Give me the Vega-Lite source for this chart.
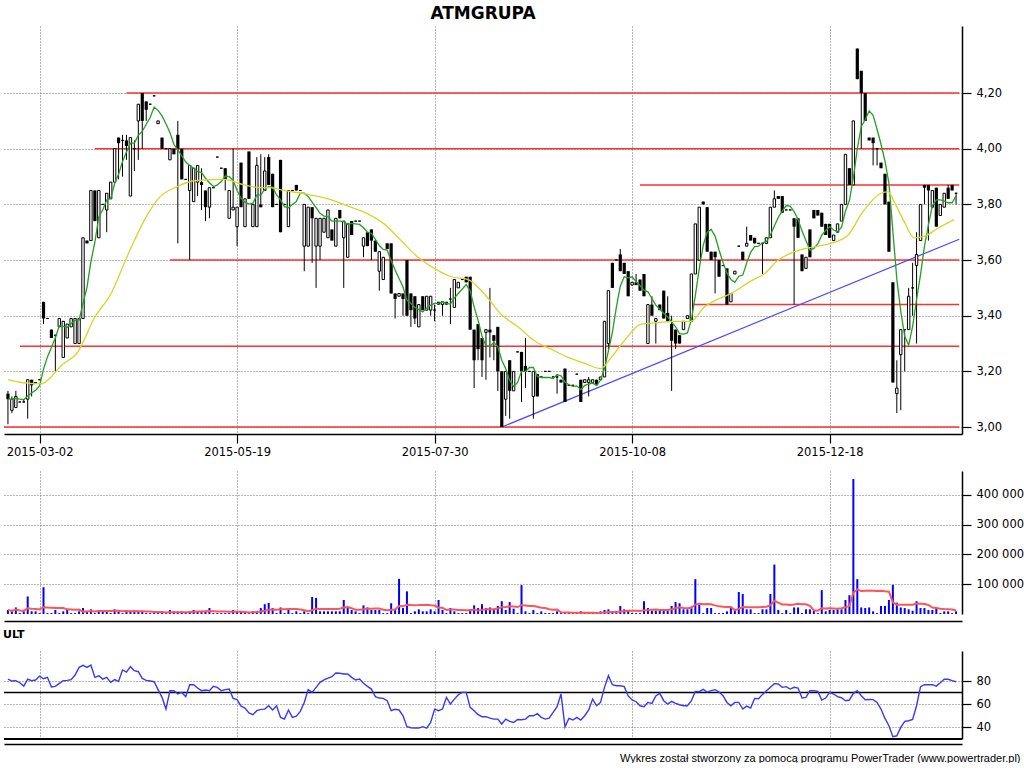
{
"$schema":"https://vega.github.io/schema/vega-lite/v6.json",
"background":"white",
"padding":{"left":3,"top":5,"right":0,"bottom":0},
"bounds":"flush",
"spacing":37,
"config":{"view":{"stroke":null},
 "axis":{"labelFont":"DejaVu Sans","labelFontSize":11.5,"labelColor":"black","domainColor":"black","tickColor":"black","gridColor":"#6e6e6e","gridDash":[1,2],"gridWidth":1,"domainWidth":1.5,"tickWidth":1.2,"tickSize":9,"labelPadding":5}},
"datasets":{
"lv":[{"i":30,"i2":240.8,"p":4.2},{"i":22,"i2":240.8,"p":4.0},{"i":160,"i2":240.8,"p":3.87},{"i":41,"i2":240.8,"p":3.6},{"i":173,"i2":240.8,"p":3.44},{"i":3,"i2":240.8,"p":3.29},{"i":-1,"i2":240.8,"p":3.0}],
"tr":[{"i":125,"p":3.0},{"i":240.8,"p":3.675}],
"ma":[{"i":0,"p":3.17},{"i":3.3,"p":3.16},{"i":8.4,"p":3.155},{"i":10.9,"p":3.18},{"i":13.4,"p":3.22},{"i":17.7,"p":3.27},{"i":21.8,"p":3.39},{"i":26.1,"p":3.48},{"i":30.4,"p":3.62},{"i":34.4,"p":3.74},{"i":38,"p":3.82},{"i":43,"p":3.865},{"i":47.1,"p":3.885},{"i":54.7,"p":3.89},{"i":59.8,"p":3.87},{"i":64.1,"p":3.86},{"i":66.6,"p":3.86},{"i":69.9,"p":3.85},{"i":74.2,"p":3.84},{"i":81,"p":3.82},{"i":86.8,"p":3.79},{"i":91.2,"p":3.765},{"i":95.2,"p":3.73},{"i":99.5,"p":3.67},{"i":103.8,"p":3.61},{"i":107.9,"p":3.57},{"i":112.2,"p":3.54},{"i":116.5,"p":3.53},{"i":120.5,"p":3.48},{"i":124.8,"p":3.405},{"i":129.1,"p":3.36},{"i":133.2,"p":3.31},{"i":137.5,"p":3.28},{"i":141.8,"p":3.25},{"i":145.8,"p":3.23},{"i":150.1,"p":3.21},{"i":152.7,"p":3.25},{"i":156,"p":3.31},{"i":160.3,"p":3.37},{"i":164.6,"p":3.375},{"i":168.6,"p":3.38},{"i":172.9,"p":3.38},{"i":176.2,"p":3.43},{"i":179.8,"p":3.46},{"i":183.1,"p":3.48},{"i":188.1,"p":3.525},{"i":191.4,"p":3.55},{"i":195,"p":3.6},{"i":198.2,"p":3.625},{"i":201.5,"p":3.64},{"i":205,"p":3.65},{"i":208.3,"p":3.66},{"i":212.7,"p":3.69},{"i":216,"p":3.765},{"i":218.5,"p":3.81},{"i":221,"p":3.84},{"i":222.8,"p":3.845},{"i":224.3,"p":3.81},{"i":226.8,"p":3.74},{"i":229.4,"p":3.68},{"i":231.9,"p":3.685},{"i":235.5,"p":3.715},{"i":239.5,"p":3.745}],
"k":[
{"i":0,"o":3.12,"h":3.13,"l":3.01,"c":3.10,"v":13500,"u":81.7},
{"i":1,"o":3.06,"h":3.11,"l":3.05,"c":3.10,"v":9000,"u":80},
{"i":2,"o":3.07,"h":3.13,"l":3.07,"c":3.11,"v":22000,"u":80.3},
{"i":3,"o":3.09,"h":3.09,"l":3.09,"c":3.09,"v":3000,"u":78.5},
{"i":4,"o":3.09,"h":3.10,"l":3.09,"c":3.09,"v":9000,"u":75.6},
{"i":5,"o":3.10,"h":3.17,"l":3.03,"c":3.17,"v":59000,"u":81.7},
{"i":6,"o":3.17,"h":3.17,"l":3.11,"c":3.15,"v":9000,"u":80.3},
{"i":7,"o":3.16,"h":3.16,"l":3.16,"c":3.16,"v":9000,"u":80.9},
{"i":8,"o":3.17,"h":3.17,"l":3.17,"c":3.17,"v":3000,"u":84.3},
{"i":9,"o":3.45,"h":3.45,"l":3.37,"c":3.39,"v":90000,"u":82},
{"i":10,"o":3.39,"h":3.39,"l":3.39,"c":3.39,"v":3000,"u":83.2},
{"i":11,"o":3.35,"h":3.35,"l":3.32,"c":3.32,"v":3000,"u":74.8},
{"i":12,"o":3.33,"h":3.33,"l":3.20,"c":3.33,"v":13500,"u":75.4},
{"i":13,"o":3.36,"h":3.39,"l":3.36,"c":3.39,"v":3000,"u":78},
{"i":14,"o":3.25,"h":3.38,"l":3.25,"c":3.38,"v":9000,"u":80.3},
{"i":15,"o":3.32,"h":3.37,"l":3.32,"c":3.37,"v":13500,"u":80.6},
{"i":16,"o":3.36,"h":3.39,"l":3.36,"c":3.39,"v":3000,"u":81.2},
{"i":17,"o":3.30,"h":3.39,"l":3.30,"c":3.39,"v":3000,"u":85.2},
{"i":18,"o":3.30,"h":3.39,"l":3.30,"c":3.39,"v":9000,"u":91.9},
{"i":19,"o":3.39,"h":3.68,"l":3.39,"c":3.68,"v":20000,"u":93.6},
{"i":20,"o":3.67,"h":3.67,"l":3.66,"c":3.66,"v":9000,"u":91.9},
{"i":21,"o":3.67,"h":3.85,"l":3.67,"c":3.85,"v":15700,"u":93.9},
{"i":22,"o":3.85,"h":3.85,"l":3.74,"c":3.74,"v":3000,"u":83.2},
{"i":23,"o":3.68,"h":3.85,"l":3.68,"c":3.85,"v":13500,"u":84.6},
{"i":24,"o":3.80,"h":3.80,"l":3.80,"c":3.80,"v":9000,"u":81.7},
{"i":25,"o":3.78,"h":3.84,"l":3.70,"c":3.84,"v":13500,"u":83.2},
{"i":26,"o":3.82,"h":3.88,"l":3.82,"c":3.88,"v":3000,"u":78.8},
{"i":27,"o":3.88,"h":4.00,"l":3.88,"c":4.00,"v":15700,"u":81.2},
{"i":28,"o":4.04,"h":4.04,"l":3.89,"c":4.02,"v":9000,"u":79.7},
{"i":29,"o":4.03,"h":4.05,"l":3.90,"c":4.03,"v":3000,"u":89.6},
{"i":30,"o":4.03,"h":4.05,"l":3.96,"c":4.01,"v":13500,"u":87.8},
{"i":31,"o":3.83,"h":4.04,"l":3.83,"c":4.04,"v":9000,"u":92.5},
{"i":32,"o":4.00,"h":4.03,"l":3.92,"c":4.00,"v":9000,"u":89},
{"i":33,"o":4.10,"h":4.16,"l":3.96,"c":4.16,"v":9000,"u":88.1},
{"i":34,"o":4.20,"h":4.20,"l":4.00,"c":4.10,"v":9000,"u":82.3},
{"i":35,"o":4.17,"h":4.17,"l":4.10,"c":4.14,"v":3000,"u":80.6},
{"i":36,"o":4.16,"h":4.16,"l":4.16,"c":4.16,"v":3000,"u":80},
{"i":37,"o":4.19,"h":4.19,"l":4.19,"c":4.19,"v":3000,"u":79.4},
{"i":38,"o":4.09,"h":4.10,"l":4.09,"c":4.10,"v":3000,"u":72.5},
{"i":39,"o":4.04,"h":4.04,"l":4.00,"c":4.00,"v":3000,"u":65.8},
{"i":40,"o":4.00,"h":4.00,"l":4.00,"c":4.00,"v":3000,"u":55.6},
{"i":41,"o":3.96,"h":4.00,"l":3.96,"c":4.00,"v":13500,"u":71.6},
{"i":42,"o":4.00,"h":4.00,"l":3.98,"c":3.98,"v":9000,"u":71.6},
{"i":43,"o":4.05,"h":4.10,"l":3.66,"c":4.00,"v":9000,"u":68.7},
{"i":44,"o":4.00,"h":4.00,"l":3.89,"c":3.89,"v":9000,"u":70.1},
{"i":45,"o":3.89,"h":3.89,"l":3.89,"c":3.89,"v":3000,"u":66.4},
{"i":46,"o":3.85,"h":3.94,"l":3.60,"c":3.94,"v":9000,"u":76.8},
{"i":47,"o":3.81,"h":3.93,"l":3.81,"c":3.93,"v":13500,"u":76.8},
{"i":48,"o":3.88,"h":3.94,"l":3.83,"c":3.94,"v":9000,"u":73.9},
{"i":49,"o":3.88,"h":3.93,"l":3.78,"c":3.87,"v":9000,"u":71.6},
{"i":50,"o":3.85,"h":3.85,"l":3.74,"c":3.79,"v":9000,"u":72.2},
{"i":51,"o":3.79,"h":3.86,"l":3.75,"c":3.86,"v":20000,"u":71.6},
{"i":52,"o":3.86,"h":3.86,"l":3.86,"c":3.86,"v":3000,"u":75.4},
{"i":53,"o":3.97,"h":3.97,"l":3.97,"c":3.97,"v":3000,"u":74.5},
{"i":54,"o":3.93,"h":3.93,"l":3.93,"c":3.93,"v":3000,"u":71.6},
{"i":55,"o":3.93,"h":3.93,"l":3.85,"c":3.89,"v":3000,"u":72.5},
{"i":56,"o":3.75,"h":3.85,"l":3.75,"c":3.85,"v":3000,"u":73},
{"i":57,"o":3.78,"h":4.00,"l":3.78,"c":3.79,"v":13500,"u":64.9},
{"i":58,"o":3.72,"h":3.79,"l":3.65,"c":3.79,"v":9000,"u":63.8},
{"i":59,"o":3.95,"h":3.95,"l":3.79,"c":3.79,"v":9000,"u":58.2},
{"i":60,"o":3.72,"h":3.82,"l":3.72,"c":3.82,"v":3000,"u":56.5},
{"i":61,"o":3.99,"h":3.99,"l":3.82,"c":3.82,"v":3000,"u":52.2},
{"i":62,"o":3.72,"h":3.80,"l":3.72,"c":3.80,"v":9000,"u":50.7},
{"i":63,"o":3.72,"h":3.97,"l":3.72,"c":3.94,"v":9000,"u":54.2},
{"i":64,"o":3.80,"h":3.98,"l":3.79,"c":3.79,"v":20000,"u":55.4},
{"i":65,"o":3.85,"h":3.97,"l":3.85,"c":3.92,"v":33000,"u":55.6},
{"i":66,"o":3.97,"h":3.98,"l":3.87,"c":3.87,"v":37000,"u":58.5},
{"i":67,"o":3.91,"h":3.91,"l":3.79,"c":3.79,"v":20000,"u":54.8},
{"i":68,"o":3.80,"h":3.80,"l":3.80,"c":3.80,"v":3000,"u":58.5},
{"i":69,"o":3.96,"h":3.96,"l":3.70,"c":3.70,"v":22000,"u":48.4},
{"i":70,"o":3.80,"h":3.80,"l":3.80,"c":3.80,"v":3000,"u":46.9},
{"i":71,"o":3.72,"h":3.85,"l":3.72,"c":3.85,"v":15700,"u":54.8},
{"i":72,"o":3.85,"h":3.85,"l":3.85,"c":3.85,"v":3000,"u":48.4},
{"i":73,"o":3.87,"h":3.87,"l":3.85,"c":3.85,"v":9000,"u":49.5},
{"i":74,"o":3.85,"h":3.85,"l":3.85,"c":3.85,"v":3000,"u":53.6},
{"i":75,"o":3.65,"h":3.80,"l":3.56,"c":3.80,"v":9000,"u":61.4},
{"i":76,"o":3.65,"h":3.79,"l":3.65,"c":3.79,"v":3000,"u":72.5},
{"i":77,"o":3.79,"h":3.79,"l":3.59,"c":3.75,"v":57000,"u":70.1},
{"i":78,"o":3.65,"h":3.75,"l":3.50,"c":3.75,"v":54000,"u":74.5},
{"i":79,"o":3.65,"h":3.75,"l":3.60,"c":3.75,"v":9000,"u":78.8},
{"i":80,"o":3.70,"h":3.75,"l":3.70,"c":3.75,"v":9000,"u":80.9},
{"i":81,"o":3.68,"h":3.78,"l":3.68,"c":3.78,"v":9000,"u":82.6},
{"i":82,"o":3.71,"h":3.71,"l":3.67,"c":3.67,"v":9000,"u":83.8},
{"i":83,"o":3.65,"h":3.75,"l":3.65,"c":3.75,"v":9000,"u":87},
{"i":84,"o":3.78,"h":3.78,"l":3.75,"c":3.75,"v":9000,"u":86.7},
{"i":85,"o":3.68,"h":3.74,"l":3.50,"c":3.74,"v":47000,"u":86.1},
{"i":86,"o":3.61,"h":3.73,"l":3.61,"c":3.73,"v":22000,"u":86.1},
{"i":87,"o":3.74,"h":3.74,"l":3.69,"c":3.69,"v":13500,"u":83.2},
{"i":88,"o":3.74,"h":3.74,"l":3.74,"c":3.74,"v":9000,"u":80.9},
{"i":89,"o":3.74,"h":3.74,"l":3.74,"c":3.74,"v":3000,"u":81.7},
{"i":90,"o":3.65,"h":3.68,"l":3.61,"c":3.68,"v":29000,"u":78},
{"i":91,"o":3.70,"h":3.70,"l":3.65,"c":3.65,"v":22000,"u":75.4},
{"i":92,"o":3.71,"h":3.71,"l":3.60,"c":3.67,"v":13500,"u":73},
{"i":93,"o":3.67,"h":3.67,"l":3.63,"c":3.63,"v":13500,"u":66.4},
{"i":94,"o":3.56,"h":3.63,"l":3.49,"c":3.63,"v":13500,"u":65.2},
{"i":95,"o":3.53,"h":3.61,"l":3.53,"c":3.61,"v":3000,"u":64.9},
{"i":96,"o":3.66,"h":3.66,"l":3.64,"c":3.64,"v":3000,"u":62.9},
{"i":97,"o":3.66,"h":3.66,"l":3.48,"c":3.48,"v":36000,"u":54.2},
{"i":98,"o":3.48,"h":3.48,"l":3.39,"c":3.46,"v":15700,"u":55.4},
{"i":99,"o":3.47,"h":3.48,"l":3.47,"c":3.48,"v":118000,"u":54.8},
{"i":100,"o":3.48,"h":3.48,"l":3.40,"c":3.46,"v":20000,"u":49.8},
{"i":101,"o":3.60,"h":3.60,"l":3.40,"c":3.40,"v":76000,"u":40.3},
{"i":102,"o":3.48,"h":3.48,"l":3.36,"c":3.42,"v":3000,"u":39.4},
{"i":103,"o":3.47,"h":3.47,"l":3.37,"c":3.39,"v":9000,"u":39.1},
{"i":104,"o":3.36,"h":3.44,"l":3.36,"c":3.44,"v":15700,"u":39.1},
{"i":105,"o":3.47,"h":3.47,"l":3.42,"c":3.42,"v":9000,"u":40.3},
{"i":106,"o":3.42,"h":3.47,"l":3.42,"c":3.47,"v":9000,"u":39.1},
{"i":107,"o":3.42,"h":3.47,"l":3.40,"c":3.47,"v":15700,"u":44},
{"i":108,"o":3.42,"h":3.44,"l":3.38,"c":3.42,"v":9000,"u":55.6},
{"i":109,"o":3.45,"h":3.45,"l":3.44,"c":3.44,"v":47000,"u":54.2},
{"i":110,"o":3.44,"h":3.45,"l":3.40,"c":3.45,"v":13500,"u":55.6},
{"i":111,"o":3.45,"h":3.45,"l":3.44,"c":3.44,"v":3000,"u":65.8},
{"i":112,"o":3.46,"h":3.50,"l":3.37,"c":3.46,"v":20000,"u":60},
{"i":113,"o":3.43,"h":3.53,"l":3.43,"c":3.53,"v":9000,"u":64.3},
{"i":114,"o":3.50,"h":3.52,"l":3.50,"c":3.52,"v":3000,"u":68.1},
{"i":115,"o":3.53,"h":3.53,"l":3.53,"c":3.53,"v":3000,"u":70.1},
{"i":116,"o":3.54,"h":3.54,"l":3.52,"c":3.52,"v":3000,"u":70.1},
{"i":117,"o":3.54,"h":3.54,"l":3.35,"c":3.35,"v":15700,"u":57.1},
{"i":118,"o":3.35,"h":3.35,"l":3.14,"c":3.24,"v":29000,"u":54.2},
{"i":119,"o":3.37,"h":3.37,"l":3.24,"c":3.28,"v":20000,"u":50.7},
{"i":120,"o":3.32,"h":3.32,"l":3.18,"c":3.24,"v":33000,"u":49},
{"i":121,"o":3.34,"h":3.35,"l":3.17,"c":3.35,"v":20000,"u":49},
{"i":122,"o":3.35,"h":3.50,"l":3.25,"c":3.34,"v":22000,"u":47.8},
{"i":123,"o":3.33,"h":3.33,"l":3.24,"c":3.31,"v":13500,"u":46.9},
{"i":124,"o":3.36,"h":3.36,"l":3.13,"c":3.20,"v":27000,"u":46.9},
{"i":125,"o":3.20,"h":3.20,"l":3.00,"c":3.00,"v":43000,"u":42.6},
{"i":126,"o":3.10,"h":3.20,"l":3.04,"c":3.20,"v":13500,"u":46.9},
{"i":127,"o":3.24,"h":3.24,"l":3.03,"c":3.13,"v":40000,"u":44.9},
{"i":128,"o":3.13,"h":3.20,"l":3.13,"c":3.20,"v":18000,"u":44},
{"i":129,"o":3.27,"h":3.27,"l":3.27,"c":3.27,"v":3000,"u":46.6},
{"i":130,"o":3.27,"h":3.27,"l":3.09,"c":3.20,"v":97000,"u":46.4},
{"i":131,"o":3.22,"h":3.32,"l":3.14,"c":3.20,"v":9000,"u":46.9},
{"i":132,"o":3.20,"h":3.20,"l":3.20,"c":3.20,"v":3000,"u":49.8},
{"i":133,"o":3.11,"h":3.20,"l":3.03,"c":3.20,"v":13500,"u":49.8},
{"i":134,"o":3.19,"h":3.19,"l":3.11,"c":3.11,"v":3000,"u":51.6},
{"i":135,"o":3.18,"h":3.18,"l":3.18,"c":3.18,"v":9000,"u":48.4},
{"i":136,"o":3.20,"h":3.20,"l":3.20,"c":3.20,"v":3000,"u":46.9},
{"i":137,"o":3.20,"h":3.20,"l":3.20,"c":3.20,"v":3000,"u":47.8},
{"i":138,"o":3.18,"h":3.18,"l":3.18,"c":3.18,"v":3000,"u":52.7},
{"i":139,"o":3.18,"h":3.19,"l":3.12,"c":3.18,"v":9000,"u":57.7},
{"i":140,"o":3.17,"h":3.17,"l":3.16,"c":3.16,"v":3000,"u":68.7},
{"i":141,"o":3.21,"h":3.21,"l":3.09,"c":3.09,"v":3000,"u":40.3},
{"i":142,"o":3.15,"h":3.15,"l":3.15,"c":3.15,"v":3000,"u":47.5},
{"i":143,"o":3.15,"h":3.15,"l":3.15,"c":3.15,"v":3000,"u":46.1},
{"i":144,"o":3.19,"h":3.19,"l":3.19,"c":3.19,"v":3000,"u":48.4},
{"i":145,"o":3.17,"h":3.17,"l":3.09,"c":3.09,"v":9000,"u":46.1},
{"i":146,"o":3.16,"h":3.17,"l":3.16,"c":3.17,"v":3000,"u":49.8},
{"i":147,"o":3.16,"h":3.18,"l":3.11,"c":3.17,"v":3000,"u":54.8},
{"i":148,"o":3.16,"h":3.17,"l":3.16,"c":3.17,"v":3000,"u":64.3},
{"i":149,"o":3.17,"h":3.17,"l":3.15,"c":3.15,"v":3000,"u":58.5},
{"i":150,"o":3.17,"h":3.18,"l":3.17,"c":3.18,"v":9000,"u":61.4},
{"i":151,"o":3.18,"h":3.38,"l":3.18,"c":3.38,"v":13500,"u":74.5},
{"i":152,"o":3.30,"h":3.49,"l":3.28,"c":3.49,"v":15700,"u":84.6},
{"i":153,"o":3.59,"h":3.59,"l":3.50,"c":3.50,"v":3000,"u":76.8},
{"i":154,"o":3.60,"h":3.60,"l":3.60,"c":3.60,"v":3000,"u":75.9},
{"i":155,"o":3.62,"h":3.64,"l":3.56,"c":3.56,"v":27000,"u":75.9},
{"i":156,"o":3.59,"h":3.59,"l":3.55,"c":3.55,"v":15700,"u":75.1},
{"i":157,"o":3.56,"h":3.56,"l":3.47,"c":3.47,"v":13500,"u":67},
{"i":158,"o":3.51,"h":3.52,"l":3.51,"c":3.52,"v":3000,"u":63.5},
{"i":159,"o":3.52,"h":3.55,"l":3.51,"c":3.51,"v":3000,"u":62},
{"i":160,"o":3.53,"h":3.53,"l":3.49,"c":3.49,"v":3000,"u":58.5},
{"i":161,"o":3.55,"h":3.55,"l":3.47,"c":3.47,"v":43000,"u":57.7},
{"i":162,"o":3.30,"h":3.44,"l":3.30,"c":3.44,"v":20000,"u":61.4},
{"i":163,"o":3.44,"h":3.47,"l":3.40,"c":3.40,"v":11000,"u":60.6},
{"i":164,"o":3.38,"h":3.39,"l":3.30,"c":3.39,"v":11000,"u":67},
{"i":165,"o":3.44,"h":3.44,"l":3.42,"c":3.42,"v":11000,"u":69.3},
{"i":166,"o":3.49,"h":3.49,"l":3.39,"c":3.39,"v":15700,"u":62.9},
{"i":167,"o":3.41,"h":3.47,"l":3.38,"c":3.38,"v":13500,"u":60},
{"i":168,"o":3.37,"h":3.40,"l":3.13,"c":3.31,"v":27000,"u":62.3},
{"i":169,"o":3.35,"h":3.35,"l":3.28,"c":3.30,"v":40000,"u":60.6},
{"i":170,"o":3.33,"h":3.33,"l":3.30,"c":3.30,"v":36000,"u":59.4},
{"i":171,"o":3.35,"h":3.38,"l":3.35,"c":3.38,"v":15700,"u":58.5},
{"i":172,"o":3.39,"h":3.40,"l":3.39,"c":3.40,"v":15700,"u":58.5},
{"i":173,"o":3.38,"h":3.55,"l":3.38,"c":3.55,"v":25000,"u":62.9},
{"i":174,"o":3.55,"h":3.73,"l":3.55,"c":3.73,"v":117000,"u":71},
{"i":175,"o":3.60,"h":3.79,"l":3.60,"c":3.79,"v":34000,"u":70.7},
{"i":176,"o":3.81,"h":3.81,"l":3.80,"c":3.80,"v":3000,"u":72.8},
{"i":177,"o":3.79,"h":3.79,"l":3.63,"c":3.63,"v":20000,"u":70.4},
{"i":178,"o":3.63,"h":3.63,"l":3.60,"c":3.60,"v":20000,"u":71.6},
{"i":179,"o":3.63,"h":3.63,"l":3.48,"c":3.61,"v":3000,"u":72.5},
{"i":180,"o":3.60,"h":3.60,"l":3.54,"c":3.54,"v":3000,"u":70.4},
{"i":181,"o":3.58,"h":3.58,"l":3.58,"c":3.58,"v":3000,"u":67.2},
{"i":182,"o":3.57,"h":3.57,"l":3.44,"c":3.44,"v":9000,"u":61.4},
{"i":183,"o":3.45,"h":3.48,"l":3.45,"c":3.48,"v":20000,"u":58.5},
{"i":184,"o":3.55,"h":3.56,"l":3.55,"c":3.56,"v":15700,"u":61.4},
{"i":185,"o":3.65,"h":3.65,"l":3.65,"c":3.65,"v":74000,"u":61.4},
{"i":186,"o":3.63,"h":3.63,"l":3.60,"c":3.60,"v":67000,"u":55.6},
{"i":187,"o":3.65,"h":3.72,"l":3.65,"c":3.66,"v":15700,"u":58.2},
{"i":188,"o":3.69,"h":3.69,"l":3.67,"c":3.67,"v":15700,"u":56.5},
{"i":189,"o":3.68,"h":3.68,"l":3.66,"c":3.66,"v":3000,"u":64.9},
{"i":190,"o":3.66,"h":3.66,"l":3.66,"c":3.66,"v":3000,"u":64.6},
{"i":191,"o":3.66,"h":3.66,"l":3.55,"c":3.66,"v":15700,"u":68.4},
{"i":192,"o":3.66,"h":3.68,"l":3.66,"c":3.68,"v":15700,"u":71.6},
{"i":193,"o":3.68,"h":3.79,"l":3.68,"c":3.79,"v":67000,"u":74.5},
{"i":194,"o":3.79,"h":3.85,"l":3.79,"c":3.82,"v":166000,"u":77.7},
{"i":195,"o":3.83,"h":3.83,"l":3.82,"c":3.82,"v":13500,"u":77.4},
{"i":196,"o":3.83,"h":3.83,"l":3.77,"c":3.77,"v":3000,"u":74.5},
{"i":197,"o":3.78,"h":3.78,"l":3.78,"c":3.78,"v":13500,"u":75.1},
{"i":198,"o":3.78,"h":3.78,"l":3.78,"c":3.78,"v":3000,"u":73},
{"i":199,"o":3.75,"h":3.75,"l":3.44,"c":3.72,"v":22000,"u":74.5},
{"i":200,"o":3.75,"h":3.75,"l":3.68,"c":3.68,"v":22000,"u":73.9},
{"i":201,"o":3.62,"h":3.62,"l":3.56,"c":3.56,"v":3000,"u":65.2},
{"i":202,"o":3.57,"h":3.61,"l":3.57,"c":3.61,"v":15700,"u":65.8},
{"i":203,"o":3.71,"h":3.71,"l":3.61,"c":3.61,"v":15700,"u":71.6},
{"i":204,"o":3.78,"h":3.78,"l":3.75,"c":3.75,"v":11000,"u":71.6},
{"i":205,"o":3.78,"h":3.78,"l":3.76,"c":3.76,"v":3000,"u":71},
{"i":206,"o":3.77,"h":3.77,"l":3.72,"c":3.72,"v":80000,"u":63.5},
{"i":207,"o":3.73,"h":3.73,"l":3.69,"c":3.69,"v":9000,"u":65.2},
{"i":208,"o":3.73,"h":3.73,"l":3.68,"c":3.68,"v":13500,"u":70.1},
{"i":209,"o":3.67,"h":3.69,"l":3.67,"c":3.69,"v":13500,"u":68.7},
{"i":210,"o":3.70,"h":3.73,"l":3.70,"c":3.73,"v":15700,"u":66.4},
{"i":211,"o":3.74,"h":3.80,"l":3.74,"c":3.80,"v":15700,"u":65.5},
{"i":212,"o":3.80,"h":3.98,"l":3.80,"c":3.98,"v":47000,"u":62.9},
{"i":213,"o":3.93,"h":3.93,"l":3.87,"c":3.87,"v":63000,"u":63.5},
{"i":214,"o":3.87,"h":4.10,"l":3.87,"c":4.10,"v":453000,"u":69.3},
{"i":215,"o":4.36,"h":4.36,"l":4.25,"c":4.25,"v":117000,"u":71.6},
{"i":216,"o":4.28,"h":4.28,"l":4.00,"c":4.20,"v":22000,"u":67.2},
{"i":217,"o":4.20,"h":4.20,"l":4.10,"c":4.10,"v":20000,"u":63.8},
{"i":218,"o":4.04,"h":4.04,"l":4.03,"c":4.03,"v":22000,"u":64},
{"i":219,"o":4.04,"h":4.04,"l":3.94,"c":4.02,"v":9000,"u":63.8},
{"i":220,"o":4.00,"h":4.00,"l":3.94,"c":4.00,"v":3000,"u":61.4},
{"i":221,"o":3.95,"h":3.95,"l":3.93,"c":3.93,"v":27000,"u":55.6},
{"i":222,"o":3.91,"h":3.91,"l":3.80,"c":3.80,"v":27000,"u":47.5},
{"i":223,"o":3.81,"h":3.81,"l":3.63,"c":3.63,"v":47000,"u":41.1},
{"i":224,"o":3.52,"h":3.52,"l":3.16,"c":3.16,"v":98000,"u":31.6},
{"i":225,"o":3.12,"h":3.24,"l":3.05,"c":3.14,"v":38000,"u":32.4},
{"i":226,"o":3.26,"h":3.35,"l":3.06,"c":3.35,"v":22000,"u":39.7},
{"i":227,"o":3.35,"h":3.35,"l":3.20,"c":3.35,"v":20000,"u":44.9},
{"i":228,"o":3.35,"h":3.50,"l":3.35,"c":3.47,"v":15700,"u":45.5},
{"i":229,"o":3.50,"h":3.59,"l":3.40,"c":3.50,"v":11000,"u":46.6},
{"i":230,"o":3.58,"h":3.70,"l":3.30,"c":3.62,"v":43000,"u":58.5},
{"i":231,"o":3.67,"h":3.80,"l":3.67,"c":3.80,"v":20000,"u":75.1},
{"i":232,"o":3.87,"h":3.87,"l":3.80,"c":3.86,"v":20000,"u":76.8},
{"i":233,"o":3.87,"h":3.87,"l":3.67,"c":3.85,"v":13500,"u":76.8},
{"i":234,"o":3.79,"h":3.85,"l":3.79,"c":3.85,"v":13500,"u":76.8},
{"i":235,"o":3.86,"h":3.86,"l":3.72,"c":3.72,"v":20000,"u":75.6},
{"i":236,"o":3.76,"h":3.80,"l":3.76,"c":3.80,"v":3000,"u":78.5},
{"i":237,"o":3.79,"h":3.84,"l":3.79,"c":3.84,"v":9000,"u":81.5},
{"i":238,"o":3.86,"h":3.87,"l":3.82,"c":3.82,"v":9000,"u":81.5},
{"i":239,"o":3.87,"h":3.87,"l":3.85,"c":3.85,"v":3000,"u":80.3},
{"i":240,"o":3.84,"h":3.84,"l":3.80,"c":3.84,"v":9000,"u":79.4}
]},
"vconcat":[
{"width":958,"height":408,
 "title":{"text":"ATMGRUPA","anchor":"middle","font":"DejaVu Sans","fontSize":17,"fontWeight":"bold","color":"black","offset":3},
 "encoding":{"x":{"field":"i","type":"quantitative","title":null,"scale":{"domain":[-1,241.5],"nice":false,"zero":false,"padding":0},
   "axis":{"values":[8,58,108,158,208],"grid":true,"labelPadding":3,"labelExpr":"datum.value == 8 ? '2015-03-02' : datum.value == 58 ? '2015-05-19' : datum.value == 108 ? '2015-07-30' : datum.value == 158 ? '2015-10-08' : '2015-12-18'"}}},
 "layer":[
  {"data":{"name":"lv"},"mark":{"type":"rule","color":"#ff3030","strokeWidth":1.5},
   "encoding":{"x2":{"field":"i2"},"y":{"field":"p","type":"quantitative","title":null,"scale":{"domain":[2.975,4.441],"nice":false,"zero":false},
     "axis":{"orient":"right","values":[3.0,3.2,3.4,3.6,3.8,4.0,4.2],"grid":true,"labelExpr":"replace(format(datum.value, '.2f'), '.', ',')"}}}},
  {"data":{"name":"tr"},"mark":{"type":"line","color":"#4a4aff","strokeWidth":1.2},
   "encoding":{"y":{"field":"p","type":"quantitative","title":null,"scale":{"domain":[2.975,4.441],"nice":false,"zero":false},
     "axis":{"orient":"right","values":[3.0,3.2,3.4,3.6,3.8,4.0,4.2],"grid":true,"labelExpr":"replace(format(datum.value, '.2f'), '.', ',')"}}}},
  {"data":{"name":"k"},"mark":{"type":"rule","color":"black","strokeWidth":1},
   "encoding":{"y":{"field":"l","type":"quantitative","title":null,"scale":{"domain":[2.975,4.441],"nice":false,"zero":false},
     "axis":{"orient":"right","values":[3.0,3.2,3.4,3.6,3.8,4.0,4.2],"grid":true,"labelExpr":"replace(format(datum.value, '.2f'), '.', ',')"}},"y2":{"field":"h"}}},
  {"data":{"name":"k"},"transform":[{"filter":"datum.c < datum.o"}],"mark":{"type":"bar","width":3.2,"color":"black"},
   "encoding":{"y":{"field":"o","type":"quantitative","title":null,"scale":{"domain":[2.975,4.441],"nice":false,"zero":false},
     "axis":{"orient":"right","values":[3.0,3.2,3.4,3.6,3.8,4.0,4.2],"grid":true,"labelExpr":"replace(format(datum.value, '.2f'), '.', ',')"}},"y2":{"field":"c"}}},
  {"data":{"name":"k"},"transform":[{"filter":"datum.c >= datum.o"}],"mark":{"type":"bar","width":2.4,"fill":"white","stroke":"black","strokeWidth":1},
   "encoding":{"y":{"field":"o","type":"quantitative","title":null,"scale":{"domain":[2.975,4.441],"nice":false,"zero":false},
     "axis":{"orient":"right","values":[3.0,3.2,3.4,3.6,3.8,4.0,4.2],"grid":true,"labelExpr":"replace(format(datum.value, '.2f'), '.', ',')"}},"y2":{"field":"c"}}},
  {"data":{"name":"k"},"transform":[{"window":[{"op":"mean","field":"c","as":"m5"}],"frame":[-4,0],"sort":[{"field":"i"}]}],
   "mark":{"type":"line","color":"#22a022","strokeWidth":1.3},
   "encoding":{"y":{"field":"m5","type":"quantitative","title":null,"scale":{"domain":[2.975,4.441],"nice":false,"zero":false},
     "axis":{"orient":"right","values":[3.0,3.2,3.4,3.6,3.8,4.0,4.2],"grid":true,"labelExpr":"replace(format(datum.value, '.2f'), '.', ',')"}}}},
  {"data":{"name":"ma"},
   "mark":{"type":"line","color":"#d6d62a","strokeWidth":1.3,"interpolate":"monotone"},
   "encoding":{"y":{"field":"p","type":"quantitative","title":null,"scale":{"domain":[2.975,4.441],"nice":false,"zero":false},
     "axis":{"orient":"right","values":[3.0,3.2,3.4,3.6,3.8,4.0,4.2],"grid":true,"labelExpr":"replace(format(datum.value, '.2f'), '.', ',')"}}}}
 ]},
{"width":958,"height":143,
 "data":{"name":"k"},
 "encoding":{"x":{"field":"i","type":"quantitative","title":null,"scale":{"domain":[-1,241.5],"nice":false,"zero":false,"padding":0},
   "axis":{"values":[8,58,108,158,208],"grid":true,"labels":false,"ticks":false,"offset":7}}},
 "layer":[
  {"mark":{"type":"bar","width":2,"color":"#0000ff"},
   "encoding":{"y":{"field":"v","type":"quantitative","title":null,"scale":{"domain":[0,480000],"nice":false,"padding":0},
     "axis":{"orient":"right","values":[100000,200000,300000,400000],"grid":true,"labelExpr":"replace(format(datum.value, ','), ',', ' ')"}}}},
  {"transform":[{"window":[{"op":"mean","field":"v","as":"vm"}],"frame":[-9,0],"sort":[{"field":"i"}]}],
   "mark":{"type":"line","color":"#ff5555","strokeWidth":2},
   "encoding":{"y":{"field":"vm","type":"quantitative","title":null,"scale":{"domain":[0,480000],"nice":false,"padding":0},
     "axis":{"orient":"right","values":[100000,200000,300000,400000],"grid":true,"labelExpr":"replace(format(datum.value, ','), ',', ' ')"}}}}
 ]},
{"width":958,"height":88,
 "title":{"text":"ULT","anchor":"start","font":"DejaVu Sans","fontSize":11,"fontWeight":"bold","color":"black","offset":11},
 "layer":[
  {"data":{"values":[{"r":70}]},"mark":{"type":"rule","color":"black","strokeWidth":1.5},
   "encoding":{"y":{"field":"r","type":"quantitative","title":null,"scale":{"domain":[29.6,106.1],"nice":false,"zero":false},
     "axis":{"orient":"right","values":[40,60,80],"grid":true}}}},
  {"data":{"values":[{"r":29.6}]},"mark":{"type":"rule","color":"black","strokeWidth":2},
   "encoding":{"y":{"field":"r","type":"quantitative","title":null,"scale":{"domain":[29.6,106.1],"nice":false,"zero":false},
     "axis":{"orient":"right","values":[40,60,80],"grid":true}}}},
  {"data":{"name":"k"},"mark":{"type":"line","color":"#3838f8","strokeWidth":1.4},
   "encoding":{"x":{"field":"i","type":"quantitative","scale":{"domain":[-1,241.5],"nice":false,"zero":false,"padding":0},
     "axis":{"values":[8,58,108,158,208],"grid":true,"labels":false,"ticks":false,"offset":5,
       "title":"Wykres został stworzony za pomocą programu PowerTrader (www.powertrader.pl)","titleFont":"Liberation Sans","titleFontSize":11,"titleFontWeight":"normal","titleColor":"black","titleX":1016,"titleY":17,"titleAlign":"right","titleBaseline":"alphabetic","titleAnchor":null}},
     "y":{"field":"u","type":"quantitative","title":null,"scale":{"domain":[29.6,106.1],"nice":false,"zero":false},
     "axis":{"orient":"right","values":[40,60,80],"grid":true}}}}
 ]}
]
}
